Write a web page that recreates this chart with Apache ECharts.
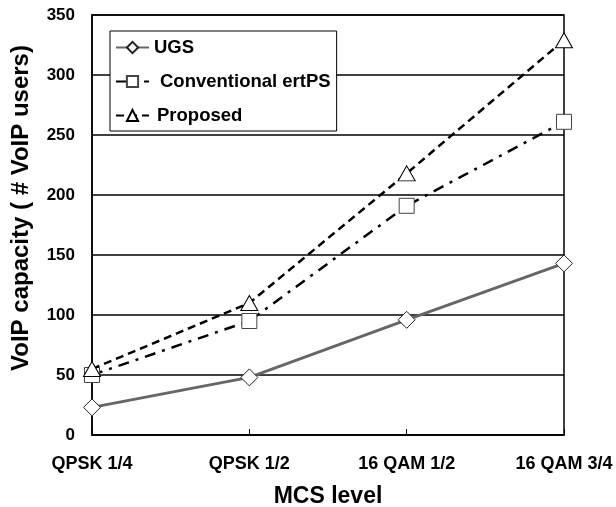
<!DOCTYPE html>
<html>
<head>
<meta charset="utf-8">
<script src="https://cdn.jsdelivr.net/npm/echarts@6/dist/echarts.min.js"></script>
<style>html,body{margin:0;padding:0;background:#fff;}#c{width:616px;height:507px;}</style>
</head>
<body>
<div id="c"></div>
<script>
var categories = ['QPSK 1/4', 'QPSK 1/2', '16 QAM 1/2', '16 QAM 3/4'];
var ugs = [23, 48, 96, 143];
var conventional = [50, 95, 191, 261];
var proposed = [55, 110, 218, 329];
var seriesNames = ['UGS', 'Conventional ertPS', 'Proposed'];

var font = 'Liberation Sans, Arial, sans-serif';
var legendText = {fontFamily: font, fontWeight: 'bold', fontSize: 18.5, color: '#000'};
var chart = echarts.init(document.getElementById('c'), null, {renderer: 'canvas'});
chart.setOption({
  animation: false,
  backgroundColor: '#fff',
  grid: {left: 92, right: 52, top: 15, bottom: 72, show: true, borderColor: '#000', borderWidth: 1.5,
         containLabel: false, outerBoundsMode: 'none'},
  legend: {
    orient: 'vertical', left: 110, top: 31,
    backgroundColor: '#fff', borderColor: '#000', borderWidth: 1,
    padding: [7, 6, 6, 5], itemGap: 15, itemWidth: 33, itemHeight: 14,
    textStyle: Object.assign({}, legendText, {
      rich: {
        a: Object.assign({}, legendText, {padding: [0, 0, 0, 0]}),
        b: Object.assign({}, legendText, {padding: [0, 0, 0, 6]}),
        c: Object.assign({}, legendText, {padding: [0, 0, 0, 3]})
      }
    }),
    formatter: function (n) {
      var k = n === seriesNames[0] ? 'a' : (n === seriesNames[1] ? 'b' : 'c');
      return '{' + k + '|' + n + '}';
    },
    data: seriesNames
  },
  xAxis: {
    type: 'category', data: categories, boundaryGap: false,
    axisLine: {show: true, lineStyle: {color: '#000', width: 1.5}},
    axisTick: {show: true, inside: true, length: 6, lineStyle: {color: '#000', width: 1}},
    axisLabel: {fontFamily: font, fontWeight: 'bold', fontSize: 18, color: '#000', margin: 20},
    splitLine: {show: false},
    name: 'MCS level', nameLocation: 'middle', nameGap: 50,
    nameTextStyle: {fontFamily: font, fontWeight: 'bold', fontSize: 23, color: '#000'}
  },
  yAxis: {
    type: 'value', min: 0, max: 350, interval: 50,
    axisLine: {show: true, lineStyle: {color: '#000', width: 1.5}},
    axisTick: {show: false},
    axisLabel: {fontFamily: font, fontWeight: 'bold', fontSize: 17, color: '#000', margin: 17},
    splitLine: {show: true, lineStyle: {color: '#000', width: 1.5}},
    name: 'VoIP capacity ( # VoIP users)', nameLocation: 'middle', nameGap: 59,
    nameTextStyle: {fontFamily: font, fontWeight: 'bold', fontSize: 24, color: '#000', padding: [0, 0, 0, 34]}
  },
  series: [
    {
      name: seriesNames[0], type: 'line', data: ugs, symbol: 'diamond', symbolSize: 17,
      lineStyle: {color: '#666', width: 3, type: 'solid'},
      itemStyle: {color: '#fff', borderColor: '#222', borderWidth: 1}, z: 3
    },
    {
      name: seriesNames[1], type: 'line', data: conventional, symbol: 'rect', symbolSize: 15,
      lineStyle: {color: '#000', width: 2.5, type: [11, 7, 3, 7]},
      itemStyle: {color: '#fff', borderColor: '#444', borderWidth: 1}, z: 4
    },
    {
      name: seriesNames[2], type: 'line', data: proposed, symbol: 'triangle', symbolSize: [17, 15],
      lineStyle: {color: '#000', width: 2.5, type: [8, 5]},
      itemStyle: {color: '#fff', borderColor: '#000', borderWidth: 1}, z: 5
    }
  ]
});
</script>
</body>
</html>
